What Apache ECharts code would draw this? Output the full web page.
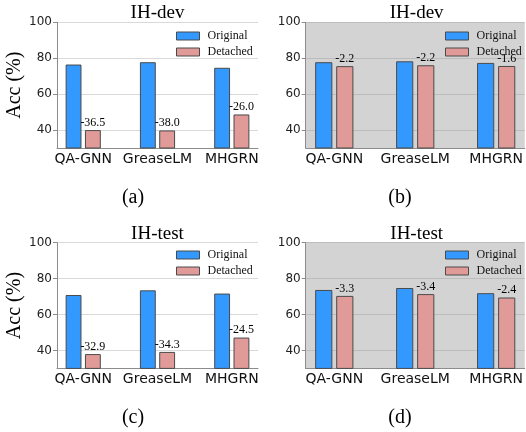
<!DOCTYPE html>
<html>
<head>
<meta charset="utf-8">
<script src="https://cdn.jsdelivr.net/npm/echarts@6/dist/echarts.min.js"></script>
<style>html,body{margin:0;padding:0;background:#fff}#c{width:526px;height:432px}</style>
</head>
<body>
<div id="c"></div>
<script>
const categories = ['QA-GNN', 'GreaseLM', 'MHGRN'];
const yTicks = [40, 60, 80, 100];
const seriesNames = ['Original', 'Detached'];
const panelTitles = ['IH-dev', 'IH-dev', 'IH-test', 'IH-test'];
const subCaptions = ['(a)', '(b)', '(c)', '(d)'];

const origA = [76.2, 77.5, 74.4];
const detA = [39.7, 39.5, 48.4];
const diffA = ['-36.5', '-38.0', '-26.0'];

const origB = [77.5, 78.0, 77.1];
const detB = [75.3, 75.8, 75.4];
const diffB = ['-2.2', '-2.2', '-1.6'];

const origC = [70.6, 73.2, 71.4];
const detC = [37.7, 38.9, 46.9];
const diffC = ['-32.9', '-34.3', '-24.5'];

const origD = [73.4, 74.5, 71.6];
const detD = [70.1, 71.1, 69.2];
const diffD = ['-3.3', '-3.4', '-2.4'];

const panels = [
  { orig: origA, det: detA, diff: diffA },
  { orig: origB, det: detB, diff: diffB },
  { orig: origC, det: detC, diff: diffC },
  { orig: origD, det: detD, diff: diffD }
];

// layout
const Y_MIN = 30, Y_MAX = 100;
const X_MIN = -0.353, X_MAX = 2.353;
const BAR_W = 0.2, OFF = 0.13;
const BLUE = '#3399ff', PINK = '#e09b98', EDGE = '#4a4a4a';
const SERIF = '"Liberation Serif", "Times New Roman", serif';
const SANS = '"DejaVu Sans", sans-serif';

const grids = [
  { left: 57, top: 22.3, width: 201, height: 125.7 },
  { left: 305.7, top: 22.3, width: 222, height: 125.7, gray: true },
  { left: 57, top: 242.7, width: 201, height: 125.7 },
  { left: 305.7, top: 242.7, width: 222, height: 125.7, gray: true }
];
const legendPos = [
  { left: 176, top: 30 }, { left: 445, top: 30 },
  { left: 176, top: 249 }, { left: 445, top: 249 }
];
const captionPos = [[133, 198], [400, 198], [133, 418], [400, 418]];

function barRenderer(offset, color, labels) {
  return function (params, api) {
    const i = api.value(0), v = api.value(1);
    const tl = api.coord([i + offset - BAR_W / 2, v]);
    const br = api.coord([i + offset + BAR_W / 2, Y_MIN]);
    const children = [{
      type: 'rect',
      shape: { x: tl[0], y: tl[1], width: br[0] - tl[0], height: br[1] - tl[1] },
      style: { fill: color, stroke: EDGE, lineWidth: 1 }
    }];
    if (labels) {
      children.push({
        type: 'text',
        x: (tl[0] + br[0]) / 2,
        y: tl[1] - 2,
        style: {
          text: labels[params.dataIndex], textAlign: 'center', textVerticalAlign: 'bottom',
          font: '12px ' + SERIF, fill: '#000'
        },
        z2: 10
      });
    }
    return { type: 'group', children: children };
  };
}

const option = {
  animation: false,
  backgroundColor: '#fff',
  grid: grids.map(g => ({
    left: g.left, top: g.top, width: g.width, height: g.height,
    show: !!g.gray, backgroundColor: g.gray ? '#d3d3d3' : 'transparent', borderWidth: 0
  })),
  xAxis: grids.map((g, k) => ({
    type: 'value', gridIndex: k, min: X_MIN, max: X_MAX,
    splitLine: { show: false },
    axisTick: { show: false },
    axisLine: { show: true, onZero: false, lineStyle: { color: '#8c8c8c', width: 1 } },
    axisLabel: {
      customValues: [0, 1, 2],
      formatter: v => categories[Math.round(v)],
      color: '#111', fontFamily: SANS, fontSize: 14, margin: 4
    }
  })),
  yAxis: grids.map((g, k) => ({
    type: 'value', gridIndex: k, min: Y_MIN, max: Y_MAX,
    name: k % 2 === 0 ? 'Acc (%)' : '',
    nameLocation: 'middle', nameGap: 27, nameRotate: 90,
    nameTextStyle: { fontFamily: SERIF, fontSize: 20, color: '#000' },
    axisLine: { show: true, onZero: false, lineStyle: { color: '#8c8c8c', width: 1 } },
    axisTick: { show: true, customValues: yTicks, length: 4, lineStyle: { color: '#8c8c8c' } },
    axisLabel: { customValues: yTicks, color: '#222', fontFamily: SANS, fontSize: 12, margin: 5 },
    splitLine: { show: true, lineStyle: { color: g.gray ? '#bcbcbc' : '#d9d9d9', width: 1 } }
  })),
  legend: legendPos.map(p => ({
    orient: 'vertical', left: p.left, top: p.top, itemWidth: 23, itemHeight: 8, itemGap: 4,
    icon: 'rect', selectedMode: false, padding: 0,
    textStyle: { fontFamily: SERIF, fontSize: 12, color: '#111', lineHeight: 12, padding: [0, 0, 0, 3] },
    data: [
      { name: seriesNames[0], itemStyle: { color: BLUE, borderColor: EDGE, borderWidth: 1 } },
      { name: seriesNames[1], itemStyle: { color: PINK, borderColor: EDGE, borderWidth: 1 } }
    ]
  })),
  graphic: [].concat(
    panelTitles.map((t, k) => ({
      type: 'text',
      x: grids[k].left + grids[k].width / 2,
      y: grids[k].top - 9,
      style: { text: t, textAlign: 'center', textVerticalAlign: 'middle', font: '19px ' + SERIF, fill: '#000' }
    })),
    subCaptions.map((t, k) => ({
      type: 'text', x: captionPos[k][0], y: captionPos[k][1],
      style: { text: t, textAlign: 'center', textVerticalAlign: 'middle', font: '20px ' + SERIF, fill: '#000' }
    }))
  ),
  series: []
};

panels.forEach((p, k) => {
  option.series.push({
    type: 'custom', name: seriesNames[0], xAxisIndex: k, yAxisIndex: k,
    itemStyle: { color: BLUE, borderColor: EDGE },
    renderItem: barRenderer(-OFF, BLUE, null),
    data: p.orig.map((v, i) => [i, v])
  });
  option.series.push({
    type: 'custom', name: seriesNames[1], xAxisIndex: k, yAxisIndex: k,
    itemStyle: { color: PINK, borderColor: EDGE },
    renderItem: barRenderer(OFF, PINK, p.diff),
    data: p.det.map((v, i) => [i, v])
  });
});

const chart = echarts.init(document.getElementById('c'), null, { renderer: 'canvas' });
chart.setOption(option);
</script>
</body>
</html>
